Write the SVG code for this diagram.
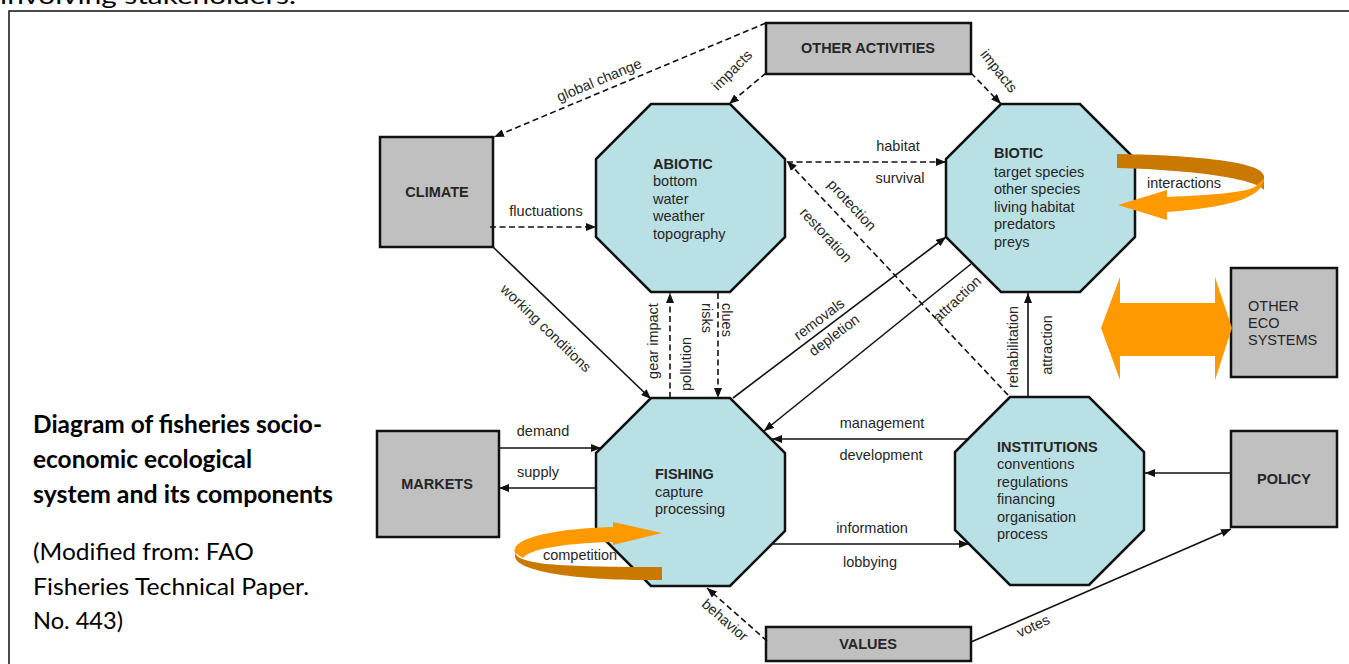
<svg xmlns="http://www.w3.org/2000/svg" width="1349" height="664" viewBox="0 0 1349 664">
<style>
.frame{fill:none;stroke:#111;stroke-width:1.5}
.oct{fill:#B9E0E4;stroke:#111;stroke-width:2.5;stroke-linejoin:miter}
.box{fill:#C0C0C0;stroke:#111;stroke-width:2.5}
.t{font-family:"Liberation Sans",Arial,sans-serif;font-size:14.5px;fill:#262626}
.b{font-weight:bold}
.c{text-anchor:middle}
.ln{fill:none;stroke:#111;stroke-width:1.6}
.d{stroke-dasharray:6 3.5}
.ar{marker-end:url(#ah)}
.cap{font-family:Lato,"Noto Sans",sans-serif;font-size:24px;fill:#000}
.or{fill:#FF9900}
.ord{fill:#C97800}
</style>
<defs>
<marker id="ah" viewBox="0 0 10 8" refX="10" refY="4" markerWidth="10" markerHeight="8" markerUnits="userSpaceOnUse" orient="auto">
<path d="M0,0 L10,4 L0,8 Z" fill="#111"/>
</marker>
<polygon id="octShape" points="55,0 134,0 189,55 189,133 134,188 55,188 0,133 0,55"/>
</defs>
<text class="cap" x="0" y="4" font-size="28" textLength="296" lengthAdjust="spacingAndGlyphs">involving stakeholders.</text>
<rect class="frame" x="9" y="11" width="1400" height="700"/>

<g id="caption">
<text class="cap" font-weight="bold" x="33" y="433" textLength="289" lengthAdjust="spacingAndGlyphs">Diagram of fisheries socio-</text>
<text class="cap" font-weight="bold" x="33" y="468" textLength="219" lengthAdjust="spacingAndGlyphs">economic ecological</text>
<text class="cap" font-weight="bold" x="33" y="503" textLength="300" lengthAdjust="spacingAndGlyphs">system and its components</text>
<text class="cap" x="33" y="560" textLength="221" lengthAdjust="spacingAndGlyphs">(Modified from: FAO</text>
<text class="cap" x="33" y="595" textLength="276" lengthAdjust="spacingAndGlyphs">Fisheries Technical Paper.</text>
<text class="cap" x="33" y="629" textLength="90" lengthAdjust="spacingAndGlyphs">No. 443)</text>
</g>

<g id="node-abiotic">
<use href="#octShape" class="oct" transform="translate(596,104)"/>
<text class="t" x="653"><tspan class="b" y="169">ABIOTIC</tspan><tspan x="653" y="186">bottom</tspan><tspan x="653" y="204">water</tspan><tspan x="653" y="221">weather</tspan><tspan x="653" y="239">topography</tspan></text>
</g>
<g id="node-biotic">
<use href="#octShape" class="oct" transform="translate(946,104)"/>
<text class="t" x="994"><tspan class="b" y="158">BIOTIC</tspan><tspan x="994" y="177">target species</tspan><tspan x="994" y="194">other species</tspan><tspan x="994" y="212">living habitat</tspan><tspan x="994" y="229">predators</tspan><tspan x="994" y="247">preys</tspan></text>
</g>
<g id="node-fishing">
<use href="#octShape" class="oct" transform="translate(596,398)"/>
<text class="t" x="655"><tspan class="b" y="479">FISHING</tspan><tspan x="655" y="497">capture</tspan><tspan x="655" y="514">processing</tspan></text>
</g>
<g id="node-institutions">
<use href="#octShape" class="oct" transform="translate(955,397)"/>
<text class="t" x="997"><tspan class="b" y="452">INSTITUTIONS</tspan><tspan x="997" y="469">conventions</tspan><tspan x="997" y="487">regulations</tspan><tspan x="997" y="504">financing</tspan><tspan x="997" y="522">organisation</tspan><tspan x="997" y="539">process</tspan></text>
</g>
<g id="node-climate">
<rect class="box" x="380" y="137" width="113" height="110"/>
<text class="t b c" x="437" y="197">CLIMATE</text>
</g>
<g id="node-other-activities">
<rect class="box" x="766" y="23" width="205" height="51"/>
<text class="t b c" x="868" y="53">OTHER ACTIVITIES</text>
</g>
<g id="node-markets">
<rect class="box" x="377" y="431" width="122" height="106"/>
<text class="t b c" x="437" y="489">MARKETS</text>
</g>
<g id="node-policy">
<rect class="box" x="1231" y="431" width="106" height="96"/>
<text class="t b c" x="1284" y="484">POLICY</text>
</g>
<g id="node-values">
<rect class="box" x="766" y="627" width="205" height="34"/>
<text class="t b c" x="868" y="649">VALUES</text>
</g>
<g id="node-other-ecosystems">
<rect class="box" x="1231" y="268" width="106" height="109"/>
<text class="t" x="1248"><tspan y="311">OTHER</tspan><tspan x="1248" y="328">ECO</tspan><tspan x="1248" y="345">SYSTEMS</tspan></text>
</g>

<g id="connectors">
<path class="ln d ar" d="M766,23 L494,137"/>
<path class="ln d ar" d="M766,73 L729,104"/>
<path class="ln d ar" d="M971,73 L1001,104"/>
<path class="ln d ar" d="M490,227 L596,227"/>
<path class="ln ar" d="M493,247 L651,399"/>
<path class="ln d ar" d="M670,398 L670,293"/>
<path class="ln d ar" d="M718,293 L718,398"/>
<path class="ln d ar" d="M787,162 L946,162"/>
<path class="ln d ar" d="M1008,395 L787,161"/>
<path class="ln ar" d="M733,398 L946,237"/>
<path class="ln ar" d="M971,264 L764,431"/>
<path class="ln ar" d="M1028,397 L1028,293"/>
<path class="ln ar" d="M498,448 L601,448"/>
<path class="ln ar" d="M596,488 L499,488"/>
<path class="ln ar" d="M968,439 L772,439"/>
<path class="ln ar" d="M772,544 L969,544"/>
<path class="ln ar" d="M1231,473 L1145,473"/>
<path class="ln d ar" d="M767,641 L707,588"/>
<path class="ln ar" d="M971,642 L1231,529"/>

<g id="connector-labels">
<text class="t c" transform="translate(599,80) rotate(-22.7)" y="5">global change</text>
<text class="t c" transform="translate(732,70) rotate(-45)" y="5">impacts</text>
<text class="t c" transform="translate(999,71) rotate(52)" y="5">impacts</text>
<text class="t c" x="546" y="216">fluctuations</text>
<text class="t c" transform="translate(546,328) rotate(44)" y="5">working conditions</text>
<text class="t c" transform="translate(653,341) rotate(-90)" y="5">gear impact</text>
<text class="t c" transform="translate(686,364) rotate(-90)" y="5">pollution</text>
<text class="t c" transform="translate(707,318) rotate(90)" y="5">risks</text>
<text class="t c" transform="translate(727,320) rotate(90)" y="5">clues</text>
<text class="t c" x="898" y="151">habitat</text>
<text class="t c" x="900" y="183">survival</text>
<text class="t c" transform="translate(852,205) rotate(47)" y="5">protection</text>
<text class="t c" transform="translate(826,235) rotate(47)" y="5">restoration</text>
<text class="t c" transform="translate(819,319) rotate(-37)" y="5">removals</text>
<text class="t c" transform="translate(834,335) rotate(-37)" y="5">depletion</text>
<text class="t c" transform="translate(957,299) rotate(-43)" y="5">attraction</text>
<text class="t c" transform="translate(1013,347) rotate(-90)" y="5">rehabilitation</text>
<text class="t c" transform="translate(1047,345) rotate(-90)" y="5">attraction</text>
<text class="t c" x="543" y="436">demand</text>
<text class="t c" x="538" y="477">supply</text>
<text class="t c" x="882" y="428">management</text>
<text class="t c" x="881" y="460">development</text>
<text class="t c" x="872" y="533">information</text>
<text class="t c" x="870" y="567">lobbying</text>
<text class="t c" transform="translate(725,620) rotate(41)" y="5">behavior</text>
<text class="t c" transform="translate(1033,626) rotate(-25)" y="5">votes</text>
</g>
</g>

<g id="loop-interactions">
<path class="ord" d="M1117,154 C1180,155 1262,160 1264,176 L1264,190 C1258,180 1200,170 1117,168 Z"/>
<path class="or" d="M1264,178 C1264,200 1220,208 1167,212 L1167,220 L1118,205 L1167,190 L1167,197 C1215,195 1250,192 1256,186 Z"/>
<text class="t c" x="1184" y="188">interactions</text>
</g>
<g id="loop-competition">
<path class="ord" d="M515,550 C512,565 560,567 662,567 L662,580 C580,581 515,572 515,556 Z"/>
<path class="or" d="M515,553 C510,535 570,528 613,527 L613,522 L662,533 L613,545 L613,542 C570,543 530,548 523,558 Z"/>
<text class="t c" x="580" y="560">competition</text>
</g>
<g id="exchange-arrow">
<polygon class="or" points="1101,328 1120,277 1120,303 1215,303 1215,277 1232,328 1215,380 1215,356 1120,356 1120,380"/>
</g>
</svg>
